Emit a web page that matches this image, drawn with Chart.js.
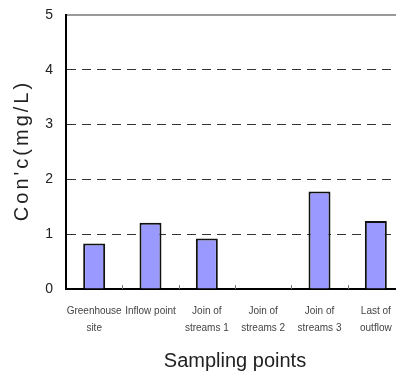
<!DOCTYPE html>
<html>
<head>
<meta charset="utf-8">
<script src="https://cdn.jsdelivr.net/npm/chart.js@4/dist/chart.umd.min.js"></script>
<style>
  html, body { margin: 0; padding: 0; background: #fff; overflow: hidden; }
  #wrap { width: 406px; height: 378px; }
</style>
</head>
<body>
<div id="wrap"><canvas id="c" width="406" height="378"></canvas></div>
<script>
// Sampling sites along the stream and measured concentrations (mg/L)
const categories = [
  ['Greenhouse', 'site'],
  ['Inflow point'],
  ['Join of', 'streams 1'],
  ['Join of', 'streams 2'],
  ['Join of', 'streams 3'],
  ['Last of', 'outflow']
];
const concentration = [0.83, 1.21, 0.92, 0, 1.78, 1.24];
const yTicks = [0, 1, 2, 3, 4, 5];
const yTitle = "Con'c(mg/L)";
const xTitle = 'Sampling points';

const FONT = "'Liberation Sans', Arial, sans-serif";

// short inward tick marks at the boundaries between categories
const innerTicks = {
  id: 'innerTicks',
  afterDatasetsDraw(chart) {
    const x = chart.scales.x;
    const ctx = chart.ctx;
    const bottom = chart.chartArea.bottom;
    ctx.save();
    ctx.strokeStyle = '#777';
    ctx.lineWidth = 1;
    for (let i = 0; i < categories.length - 1; i++) {
      const px = Math.round((x.getPixelForValue(i) + x.getPixelForValue(i + 1)) / 2) + 0.5;
      ctx.beginPath();
      ctx.moveTo(px, bottom);
      ctx.lineTo(px, bottom - 4);
      ctx.stroke();
    }
    ctx.restore();
  }
};

// vertical axis title, drawn with a little extra letter spacing
const yAxisTitle = {
  id: 'yAxisTitle',
  afterDraw(chart) {
    const ctx = chart.ctx;
    const area = chart.chartArea;
    ctx.save();
    ctx.translate(28, (area.top + area.bottom) / 2);
    ctx.rotate(-Math.PI / 2);
    ctx.font = '20px ' + FONT;
    ctx.fillStyle = '#222';
    ctx.textAlign = 'center';
    ctx.textBaseline = 'alphabetic';
    if ('letterSpacing' in ctx) ctx.letterSpacing = '3px';
    ctx.fillText(yTitle, 1.5, 0);
    ctx.restore();
  }
};

new Chart(document.getElementById('c'), {
  type: 'bar',
  data: {
    labels: categories,
    datasets: [{
      data: concentration,
      backgroundColor: '#9999ff',
      borderColor: '#111',
      borderWidth: 2,
      barPercentage: 0.39,
      categoryPercentage: 1
    }]
  },
  options: {
    responsive: false,
    animation: false,
    devicePixelRatio: 1,
    layout: { padding: { top: 15, right: 2, left: 0, bottom: 0 } },
    plugins: { legend: { display: false }, tooltip: { enabled: false } },
    scales: {
      x: {
        grid: { display: false, drawTicks: false },
        border: { display: true, color: '#000', width: 2 },
        ticks: {
          color: '#444',
          font: { family: FONT, size: 10, lineHeight: 1.7 },
          padding: 14,
          maxRotation: 0,
          autoSkip: false
        },
        title: {
          display: true,
          text: xTitle,
          color: '#222',
          font: { family: FONT, size: 20 },
          padding: { top: 0, bottom: 5 }
        },
        afterFit(scale) { scale.height = 89; }
      },
      y: {
        min: 0,
        max: 5,
        afterBuildTicks(scale) { scale.ticks = yTicks.map(v => ({ value: v })); },
        grid: {
          drawTicks: false,
          color: c => c.tick && c.tick.value === 0 ? 'rgba(0,0,0,0)' : (c.tick && c.tick.value === 5 ? '#999' : '#333'),
          lineWidth: c => c.tick && c.tick.value === 5 ? 2 : 1
        },
        border: {
          display: true,
          color: '#000',
          width: 2,
          dash: c => c.tick && c.tick.value === 5 ? [] : [9, 6]
        },
        ticks: {
          color: '#222',
          font: { family: FONT, size: 14 },
          padding: 13
        },
        afterFit(scale) {
          scale.width = 66;
          scale.paddingTop = 0;
          scale.paddingBottom = 0;
        }
      }
    }
  },
  plugins: [innerTicks, yAxisTitle]
});
</script>
</body>
</html>
